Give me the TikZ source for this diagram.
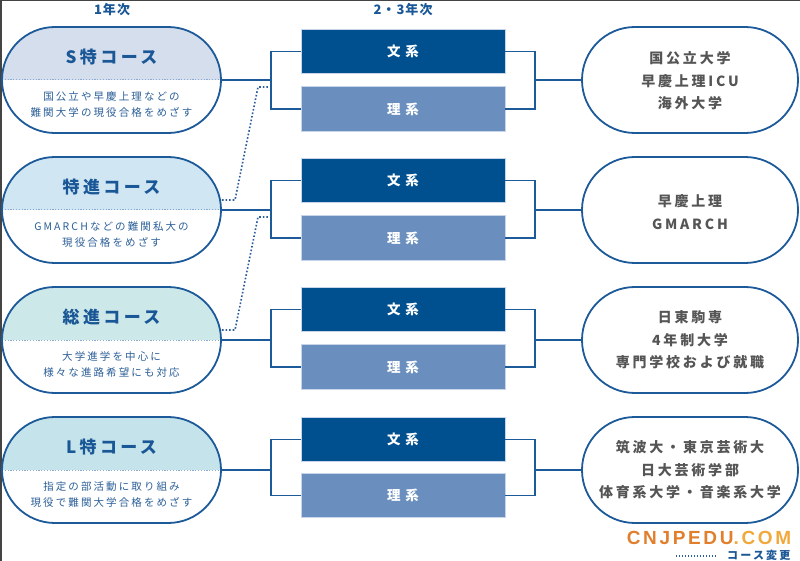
\documentclass[tikz,border=0pt]{standalone}
\usepackage{fontspec}
\setmainfont{Noto Sans CJK JP}
\newfontfamily\jpA{Noto Sans CJK JP}[LetterSpace=20]
\newfontfamily\jpB{Noto Sans CJK JP}[LetterSpace=35]
\newfontfamily\jpC{Noto Sans CJK JP}[LetterSpace=8]
\newfontfamily\wmfont{Liberation Sans}[LetterSpace=14]
\usetikzlibrary{calc}
\definecolor{lineblue}{HTML}{1D5A9A}
\definecolor{textblue}{HTML}{1A5796}
\definecolor{subblue}{HTML}{2B5F98}
\definecolor{divblue}{HTML}{8AAAD2}
\definecolor{dotblue}{HTML}{2B5D9C}
\definecolor{bunkeic}{HTML}{00508F}
\definecolor{rikeic}{HTML}{6A8FBF}
\definecolor{boxedge}{HTML}{C8D5E8}
\definecolor{fillS}{HTML}{D5DEED}
\definecolor{fillT}{HTML}{D0E6F3}
\definecolor{fillG}{HTML}{CDE8E8}
\definecolor{fillL}{HTML}{C4E3EA}
\definecolor{graytext}{HTML}{555555}
\definecolor{wmorange}{HTML}{E17F2D}
\definecolor{wmlight}{HTML}{F2A93B}
\definecolor{framegray}{HTML}{444444}
\tikzset{
  capsule/.style={draw=lineblue, line width=1.8pt, rounded corners=52.9pt,
    minimum width=219pt, minimum height=106pt, inner sep=0pt},
  capdiv/.style={draw=divblue, line width=1pt, dash pattern=on 1.2pt off 1.6pt},
  capfill/.style={path picture={
    \fill[#1, sharp corners] (path picture bounding box.north west) rectangle (path picture bounding box.east);
    \draw[capdiv, sharp corners] (path picture bounding box.west) -- (path picture bounding box.east);}},
  kbox/.style={minimum width=204pt, minimum height=44.5pt, inner sep=0pt, draw=boxedge,
    line width=0.8pt, text=white, font=\jpB\bfseries\fontsize{13.5}{16}\selectfont},
  bunkei/.style={kbox, fill=bunkeic},
  rikei/.style={kbox, fill=rikeic},
  conn/.style={draw=lineblue, line width=1.8pt},
  change/.style={draw=dotblue, line width=1.6pt, dash pattern=on 1.6pt off 2pt},
  title/.style={text=textblue, font=\jpA\bfseries\fontsize{17}{20}\selectfont},
  sub/.style={text=subblue, align=center, font=\jpA\fontsize{10.5}{15.5}\selectfont},
  dest/.style={text=graytext, align=center, font=\jpA\bfseries\fontsize{14}{22.5}\selectfont},
  head/.style={text=textblue, font=\jpC\bfseries\fontsize{13}{15}\selectfont},
}
\begin{document}
\begin{tikzpicture}[x=1pt,y=-1pt]
\useasboundingbox (0,0) rectangle (800,561);
\fill[white] (0,0) rectangle (800,561);
\draw[framegray, line width=1.5pt] (0.75,561) -- (0.75,0.5) -- (800,0.5);

\node[head] (h1) at (112,9.5) {1年次};
\node[head] (h2) at (403,9.5) {2・3年次};

\coordinate (jl) at (271,0);
\coordinate (jr) at (535,0);

\foreach \i/\yc/\yw/\yr/\col in {1/80/51.5/109/fillS, 2/210/180.5/238/fillT, 3/340/309.5/367/fillG, 4/470/439.5/495.5/fillL}{
  \node[capsule, capfill=\col] (L\i) at (111.5,\yc) {};
  \node[bunkei] (W\i) at (403,\yw) {文系};
  \node[rikei] (R\i) at (403,\yr) {理系};
  \node[capsule, minimum width=216pt] (D\i) at (690,\yc) {};
  \draw[conn] (L\i.east) -- (L\i.east -| jl);
  \draw[conn] (W\i.west) -- (W\i.west -| jl) -- (R\i.west -| jl) -- (R\i.west);
  \draw[conn] (W\i.east) -- (W\i.east -| jr) -- (R\i.east -| jr) -- (R\i.east);
  \draw[conn] (D\i.west) -- (D\i.west -| jr);
}

% left capsule texts
\node[title] (t1) at ($(L1.center)+(0,-23)$) {S特コース};
\node[sub] (s1) at ($(L1.center)+(0,24.5)$) {国公立や早慶上理などの\\難関大学の現役合格をめざす};
\node[title] (t2) at ($(L2.center)+(0,-23)$) {特進コース};
\node[sub] (s2) at ($(L2.center)+(0,24.5)$) {GMARCHなどの難関私大の\\現役合格をめざす};
\node[title] (t3) at ($(L3.center)+(0,-23)$) {総進コース};
\node[sub] (s3) at ($(L3.center)+(0,24.5)$) {大学進学を中心に\\様々な進路希望にも対応};
\node[title] (t4) at ($(L4.center)+(0,-23)$) {L特コース};
\node[sub] (s4) at ($(L4.center)+(0,24.5)$) {指定の部活動に取り組み\\現役で難関大学合格をめざす};

% destinations
\node[dest] (e1) at ($(D1.center)+(0,1)$) {国公立大学\\早慶上理ICU\\海外大学};
\node[dest] (e2) at ($(D2.center)+(0,2)$) {早慶上理\\GMARCH};
\node[dest] (e3) at ($(D3.center)+(0,0)$) {日東駒専\\4年制大学\\専門学校および就職};
\node[dest] (e4) at ($(D4.center)+(0,0)$) {筑波大・東京芸術大\\日大芸術学部\\体育系大学・音楽系大学};

% course change dotted connectors
\coordinate (c1a) at ($(L2.east)+(0,-10)$);
\coordinate (c1b) at (235,200);
\coordinate (c1c) at (258,87);
\coordinate (c1d) at ($(L1.east -| jl)+(-2,7)$);
\draw[change] (c1a) -- (c1b) -- (c1c) -- (c1d);
\coordinate (c2a) at ($(L3.east)+(0,-10)$);
\coordinate (c2b) at (235,330);
\coordinate (c2c) at (258,217);
\coordinate (c2d) at ($(L2.east -| jl)+(-2,7)$);
\draw[change] (c2a) -- (c2b) -- (c2c) -- (c2d);

% watermark and legend
\node[font=\wmfont\bfseries\fontsize{19}{21}\selectfont, inner sep=0pt] (wm) at (709,538)
  {\textcolor{wmorange}{CNJPEDU}\textcolor{wmlight}{.COM}};
\coordinate (lg1) at (676,556);
\coordinate (lg2) at (717,556);
\draw[change, line width=1.3pt, dash pattern=on 1.3pt off 1.7pt] (lg1) -- (lg2);
\node[text=textblue, font=\jpA\bfseries\fontsize{11}{13}\selectfont, anchor=west, inner sep=0pt] (lgt) at (727,555.5) {コース変更};
\end{tikzpicture}
\end{document}
